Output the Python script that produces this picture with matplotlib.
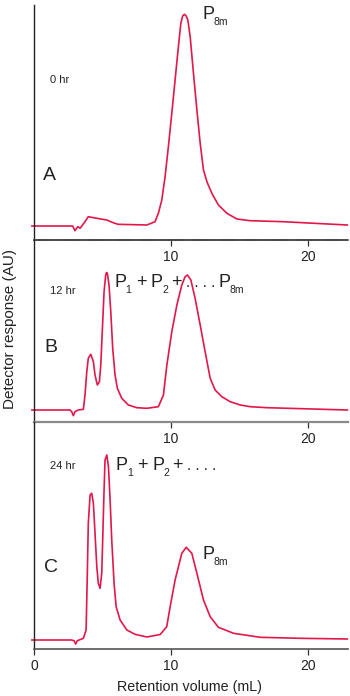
import numpy as np
import matplotlib
matplotlib.use('Agg')
import matplotlib.pyplot as plt

plt.rcParams['font.family'] = ['Liberation Sans', 'DejaVu Sans']

# retention volume (mL) and detector response (arbitrary units)
vol_a = [-0.15, 2.82, 2.99, 3.19, 3.36, 3.72, 3.96, 4.58, 5.31, 5.77, 6.13, 8.23, 8.83,
         9.07, 9.32, 9.56, 9.80, 10.05, 10.29, 10.53, 10.71, 10.84, 10.97, 11.10, 11.22,
         11.39, 11.63, 11.88, 12.12, 12.36, 12.61, 12.97, 13.45, 14.07, 14.80, 15.77,
         18.18, 22.85]
resp_a = [0, 0, -4.7, -0.7, -2.3, 4.3, 9.3, 7.7, 6.0, 3.3, 1.7, 1.0, 4.3,
          12.7, 26.0, 49.3, 79.3, 112.7, 146.0, 179.3, 202.7, 210.0, 211.7, 210.0, 206.0,
          189.3, 152.7, 116.0, 82.7, 56.0, 44.3, 32.7, 21.0, 12.7, 7.0, 5.3,
          4.3, 1.0]

vol_b = [-0.15, 2.63, 2.75, 2.87, 2.99, 3.23, 3.60, 3.72, 3.85, 3.96, 4.14, 4.33, 4.45,
         4.62, 4.77, 4.87, 4.99, 5.11, 5.23, 5.29, 5.35, 5.47, 5.60, 5.74, 5.91, 6.08, 6.40,
         6.88, 7.50, 8.23, 9.07, 9.44, 9.69, 10.05, 10.42, 10.78, 11.02, 11.19, 11.44,
         11.75, 12.12, 12.48, 12.85, 13.21, 13.70, 14.31, 15.04, 15.77, 17.01, 22.85]
resp_b = [0, 0, -1.7, -5.7, -1.7, 0, 0.7, 15, 38.3, 51.7, 55.7, 48.3, 35,
          25, 28.3, 45, 81.7, 118.3, 135, 137.5, 136.7, 125, 98.3, 61.7, 35, 21.7, 11.7,
          5, 2.3, 1.7, 3.3, 15, 45, 78.3, 105, 125, 133.3, 135, 130,
          111.7, 85, 58.3, 31.7, 20, 13.3, 8.3, 5, 3.3, 2.3, 0]

vol_c = [-0.15, 2.73, 2.92, 3.04, 3.16, 3.60, 3.80, 3.89, 3.96, 4.09, 4.21, 4.33, 4.45,
         4.58, 4.69, 4.82, 4.94, 5.01, 5.11, 5.18, 5.31, 5.43, 5.55, 5.67, 5.84, 5.99,
         6.28, 6.77, 7.37, 8.23, 9.20, 9.68, 9.93, 10.29, 10.78, 11.10, 11.51, 11.88,
         12.36, 12.85, 13.45, 14.55, 16.50, 19.42, 22.85]
resp_c = [0, 0, -0.7, -4, -0.7, 1.7, 10, 66.7, 116.7, 145, 146.7, 136.7, 106.7,
          73.3, 56.7, 51.7, 66.7, 100, 150, 180, 185, 173.3, 140, 100, 56.7, 33.3,
          20, 10, 5.7, 3, 5.5, 13.3, 33.3, 60, 86.7, 92.7, 86.7, 66.7,
          40, 23.3, 12.7, 6.7, 2.7, 1.7, 1]

times = ['0 hr', '12 hr', '24 hr']
letters = ['A', 'B', 'C']
red = '#e2174b'

W, H = 350, 696
fig = plt.figure(figsize=(W / 100, H / 100), dpi=100)


def px(x, y):
    return x / W, 1 - y / H


# panel boxes in pixels: top, bottom
boxes = [(5, 240), (240, 422), (422, 649)]
ylims = [(-14, 221), (-12, 170), (-9, 218)]
data = [(vol_a, resp_a), (vol_b, resp_b), (vol_c, resp_c)]
spine_style = [dict(color='#444444', linestyle=(0, (1, 0.6)), linewidth=1.3),
               dict(color='#8a8a8a', linestyle='-', linewidth=1.6),
               dict(color='#555555', linestyle='-', linewidth=1.2)]

axes = []
for k in range(3):
    top, bot = boxes[k]
    l, b = 34 / W, 1 - bot / H
    ax = fig.add_axes([l, b, (348 - 34) / W, (bot - top) / H])
    x, y = data[k]
    ax.plot(x, y, color=red, lw=1.2, clip_on=False, solid_joinstyle='round')
    ax.set_xlim(0, 22.9)
    ax.set_ylim(*ylims[k])
    ax.spines['top'].set_visible(False)
    ax.spines['right'].set_visible(False)
    ax.spines['left'].set_color('#222222')
    ax.spines['left'].set_linewidth(1.0)
    ax.spines['bottom'].set(**spine_style[k])
    ax.set_yticks([])
    if k < 2:
        ax.set_xticks([10, 20])
    else:
        ax.set_xticks([0, 10, 20])
    ax.tick_params(axis='x', direction='out', length=4, width=0.9, color='#333333',
                   pad=3, labelsize=10, labelcolor='#222222')
    ax.patch.set_alpha(0)
    axes.append(ax)

fs_small = 8
fs_letter = 14
fs_p = 13
fs_sub = 7.5
fs_dot = 11
tc = '#222222'


def label_p(x, y, sub):
    # big P with small subscript, x = left edge, y = baseline (pixels)
    fig.text(*px(x, y), 'P', fontsize=fs_p, color=tc, va='baseline', ha='left')
    fig.text(*px(x + 11, y + 6), sub, fontsize=fs_sub, color=tc, va='baseline', ha='left')


def plus(x, y):
    fig.text(*px(x, y), '+', fontsize=fs_p, color=tc, va='baseline', ha='center')


def dots(x, y):
    fig.text(*px(x, y), '. . . .', fontsize=fs_dot, color=tc, va='baseline', ha='left')


# panel A
fig.text(*px(50, 80), times[0], fontsize=fs_small, color=tc, va='center')
fig.text(*px(43, 175), letters[0], fontsize=fs_letter, color=tc, va='center')
label_p(202, 19, '8m')

# panel B
fig.text(*px(50, 291), times[1], fontsize=fs_small, color=tc, va='center')
fig.text(*px(44, 348), letters[1], fontsize=fs_letter, color=tc, va='center')
label_p(114, 287, '1')
plus(141, 287)
label_p(151, 287, '2')
plus(176, 287)
dots(186, 287)
label_p(219, 287, '8m')

# panel C
fig.text(*px(50, 466), times[2], fontsize=fs_small, color=tc, va='center')
fig.text(*px(44, 567), letters[2], fontsize=fs_letter, color=tc, va='center')
label_p(116, 470, '1')
plus(142, 470)
label_p(152, 470, '2')
plus(177, 470)
dots(187, 470)
label_p(203, 559, '8m')

fig.text(*px(190, 687), 'Retention volume (mL)', fontsize=10.3, color=tc,
         ha='center', va='center')
fig.text(*px(10, 329), 'Detector response (AU)', fontsize=11, color=tc,
         ha='center', va='center', rotation=90)

fig.savefig('out.png', dpi=100)
